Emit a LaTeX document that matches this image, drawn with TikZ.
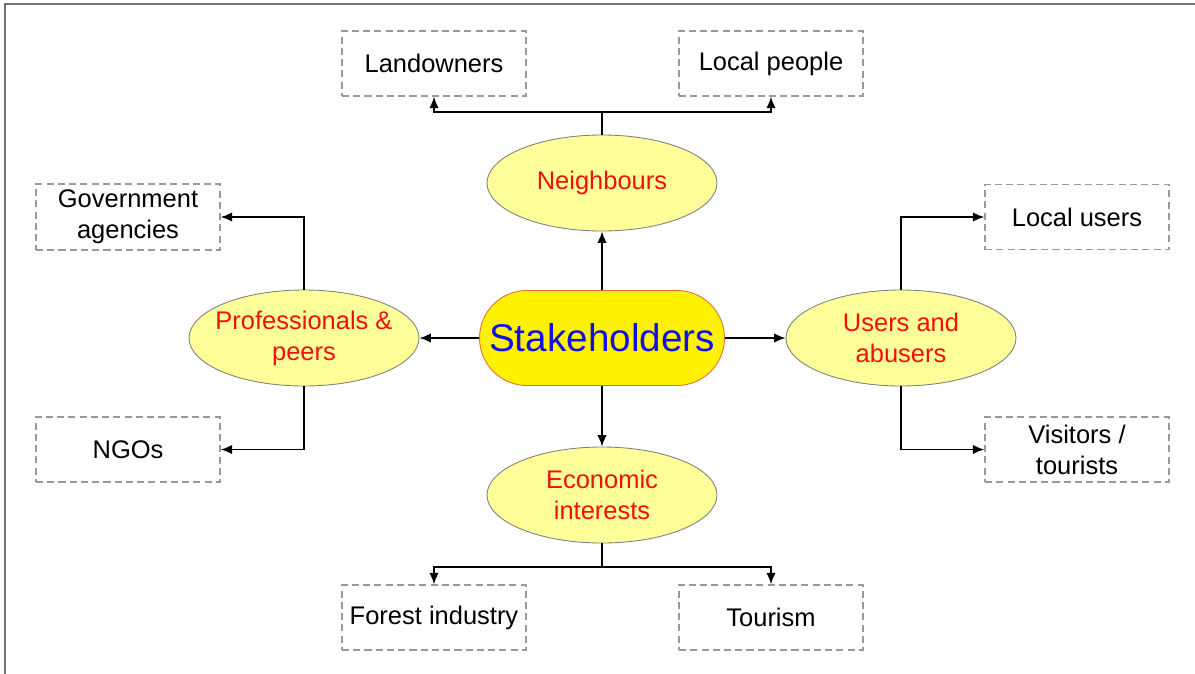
\documentclass[tikz,border=0pt]{standalone}
\usepackage{fontspec}
\setmainfont{Liberation Sans}
\usetikzlibrary{shapes.geometric,arrows.meta}
\definecolor{boxgray}{HTML}{999999}
\definecolor{paleyellow}{HTML}{FFFF99}
\definecolor{hubborder}{HTML}{E0703A}
\definecolor{hubblue}{HTML}{1010E8}
\definecolor{labelred}{HTML}{F01010}
\begin{document}
\begin{tikzpicture}[
    link/.style={line width=1pt,-{Latex[length=2.3mm,width=1.9mm]}},
    plainlink/.style={line width=1pt},
    leaf/.style={draw=boxgray,line width=0.8pt,dash pattern=on 4pt off 2.4pt,minimum width=3.68cm,minimum height=1.3cm,align=center,font=\fontsize{14.5}{17.6}\selectfont},
    group/.style={ellipse,draw=gray,fill=paleyellow,line width=0.5pt,minimum width=4.6cm,minimum height=1.92cm,inner xsep=-0.3cm,inner ysep=0pt,align=center,text=labelred,font=\fontsize{14.5}{17.6}\selectfont}]
        \useasboundingbox (0cm,0cm) rectangle (23.9cm,-13.48cm);
        \draw[gray!90!black,line width=1.3pt] (0.1cm,-13.48cm) -- (0.1cm,-0.08cm) -- (23.9cm,-0.08cm);
        
        % centre
        \node[draw=hubborder,fill=yellow,line width=0.5pt,minimum width=4.9cm,minimum height=1.9cm,rounded corners=0.95cm,inner sep=0pt,text=hubblue,font=\fontsize{22}{26}\selectfont] (hub) at (12.04cm,-6.76cm) {Stakeholders};
        
        % groups
        \node[group] (neigh) at (12.04cm,-3.66cm) {Neighbours};
        \node[group] (econ) at (12.04cm,-9.9cm) {Economic\\interests};
        \node[group] (prof) at (6.08cm,-6.76cm) {Professionals \&\\peers};
        \node[group] (users) at (18.02cm,-6.76cm) {Users and\\abusers};
        
        % leaves
        \node[leaf] (land) at (8.68cm,-1.27cm) {Landowners};
        \node[leaf] (locpeople) at (15.42cm,-1.27cm) {Local people};
        \node[leaf] (gov) at (2.56cm,-4.34cm) {Government\\agencies};
        \node[leaf] (ngo) at (2.56cm,-8.99cm) {NGOs};
        \node[leaf] (locusers) at (21.54cm,-4.34cm) {Local users};
        \node[leaf] (visit) at (21.54cm,-8.99cm) {Visitors /\\tourists};
        \node[leaf] (forest) at (8.68cm,-12.35cm) {Forest industry};
        \node[leaf] (tour) at (15.42cm,-12.35cm) {Tourism};
        
        \coordinate (NJ) at (12.04cm,-2.24cm);
        \coordinate (EJ) at (12.04cm,-11.34cm);
        
        \draw[link] (hub) -- (neigh);
        \draw[link] (hub) -- (econ);
        \draw[link] (hub) -- (prof);
        \draw[link] (hub) -- (users);
        
        \draw[plainlink] (neigh.north) -- (NJ);
        \draw[link] (NJ) -| (land.south);
        \draw[link] (NJ) -| (locpeople.south);
        
        \draw[plainlink] (econ.south) -- (EJ);
        \draw[link] (EJ) -| (forest.north);
        \draw[link] (EJ) -| (tour.north);
        
        \draw[link] (prof.north) |- (gov.east);
        \draw[link] (prof.south) |- (ngo.east);
        \draw[link] (users.north) |- (locusers.west);
        \draw[link] (users.south) |- (visit.west);
    \end{tikzpicture}
\end{document}
